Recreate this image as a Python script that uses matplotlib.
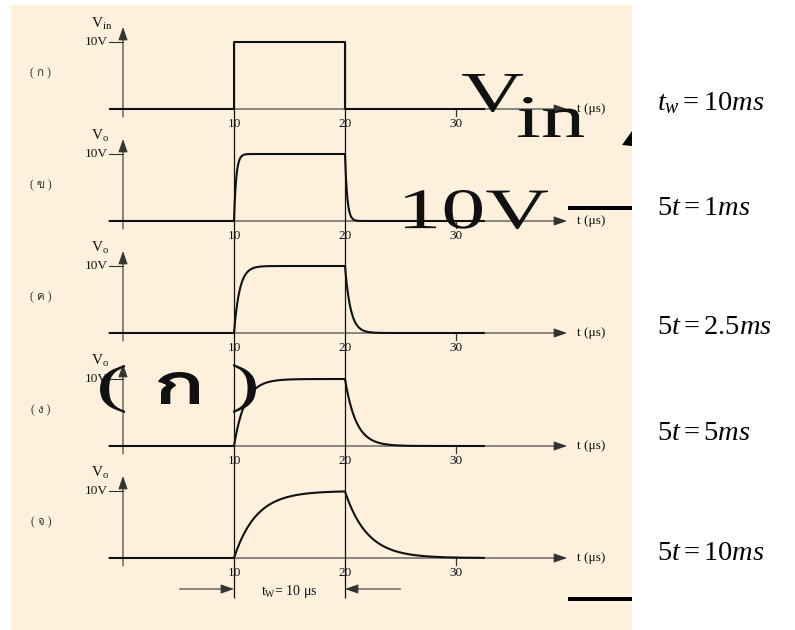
import numpy as np
import matplotlib
matplotlib.use("Agg")
import matplotlib.pyplot as plt
from matplotlib import font_manager
from matplotlib.ft2font import FT2Font
from matplotlib.font_manager import FontProperties
from matplotlib.patches import Rectangle, PathPatch, Polygon
from matplotlib.textpath import TextPath
from matplotlib.transforms import Affine2D

# ---- data ---------------------------------------------------------------
PANEL_TAGS = ["( ก )", "( ข )", "( ค )", "( ง )", "( จ )"]
PANEL_YLABELS = [r"$\mathrm{V_{in}}$", r"$\mathrm{V_o}$", r"$\mathrm{V_o}$",
                 r"$\mathrm{V_o}$", r"$\mathrm{V_o}$"]
FIVE_TAU_US = [None, 1.0, 2.5, 5.0, 10.0]   # first panel is the input pulse
T_ON, T_OFF = 10.0, 20.0
V_PEAK = 10.0
T_TICKS = [10, 20, 30]
EQ_LABELS = [r"$t_w = 10ms$", r"$5t = 1ms$", r"$5t = 2.5ms$",
             r"$5t = 5ms$", r"$5t = 10ms$"]

# ---- layout (pixels) ----------------------------------------------------
W, H, DPI = 795, 630, 100
BG_BOX = (11, 5, 632, 630)
BASE_PX = [109, 221, 333, 446, 558]
EQ_Y_PX = [103, 209, 327, 433, 553]
T0_PX, PX_PER_US, PX_PER_V = 123.0, 11.1, 6.7
AX_LEFT, AX_RIGHT = 11, 632
XLIM = ((AX_LEFT - T0_PX) / PX_PER_US, (AX_RIGHT - T0_PX) / PX_PER_US)
ABOVE, BELOW = 95, 22

BG = "#FDF1DE"
INK = "#111111"
AXC = "#333333"
SMALL = 9.5

plt.rcParams.update({
    "font.family": "Liberation Serif",
    "mathtext.fontset": "custom",
    "mathtext.rm": "Liberation Serif",
    "mathtext.it": "Liberation Serif:italic",
    "mathtext.bf": "Liberation Serif:bold",
})


def font_with(ch):
    for f in font_manager.fontManager.ttflist:
        try:
            if ord(ch) in FT2Font(f.fname).get_charmap():
                return f
        except Exception:
            pass
    return None


thai = font_with("ก")
if thai is not None:
    thai_fp = FontProperties(fname=thai.fname)
    tag_family = ["Liberation Serif", thai.name]
else:
    thai_fp = FontProperties(family="DejaVu Sans")
    tag_family = ["Liberation Serif", "DejaVu Sans"]
serif_fp = FontProperties(family="Liberation Serif")


def response(five_tau):
    t_pre = np.array([-1.2, T_ON])
    v_pre = np.zeros(2)
    if five_tau is None:
        t = np.array([-1.2, T_ON, T_ON, T_OFF, T_OFF, 32.5])
        v = np.array([0, 0, V_PEAK, V_PEAK, 0, 0])
        return t, v
    tau = five_tau / 5.0
    t_up = np.linspace(T_ON, T_OFF, 500)
    v_up = V_PEAK * (1 - np.exp(-(t_up - T_ON) / tau))
    t_dn = np.linspace(T_OFF, 32.5, 500)
    v_dn = v_up[-1] * np.exp(-(t_dn - T_OFF) / tau)
    return np.concatenate([t_pre, t_up, t_dn]), np.concatenate([v_pre, v_up, v_dn])


def glyph_box(fig, s, fp, x0, y0, x1, y1, color=INK):
    # fit a glyph outline into a pixel box (y measured from the top)
    path = TextPath((0, 0), s, size=100, prop=fp)
    bb = path.get_extents()
    tr = (Affine2D().translate(-bb.x0, -bb.y0)
          .scale((x1 - x0) / bb.width, (y1 - y0) / bb.height)
          .translate(x0, H - y1))
    fig.add_artist(PathPatch(path, transform=tr, facecolor=color,
                             edgecolor="none", zorder=10))


fig = plt.figure(figsize=(W / DPI, H / DPI), dpi=DPI, facecolor="white")
fig.add_artist(Rectangle((BG_BOX[0] / W, 1 - BG_BOX[3] / H),
                         (BG_BOX[2] - BG_BOX[0]) / W, (BG_BOX[3] - BG_BOX[1]) / H,
                         transform=fig.transFigure, facecolor=BG,
                         edgecolor="none", zorder=-5))

arrow_kw = dict(arrowstyle="-|>,head_length=0.8,head_width=0.28",
                lw=0.8, color=AXC, shrinkA=0, shrinkB=0)

for k, base in enumerate(BASE_PX):
    ax = fig.add_axes([AX_LEFT / W, 1 - (base + BELOW) / H,
                       (AX_RIGHT - AX_LEFT) / W, (ABOVE + BELOW) / H])
    ax.set_xlim(*XLIM)
    ax.set_ylim(-BELOW / PX_PER_V, ABOVE / PX_PER_V)
    ax.axis("off")
    ax.patch.set_alpha(0)

    ax.annotate("", xy=(40.0, 0), xytext=(-1.2, 0), arrowprops=arrow_kw)
    ax.annotate("", xy=(0, V_PEAK + 15 / PX_PER_V), xytext=(0, -8 / PX_PER_V),
                arrowprops=arrow_kw)
    ax.plot([-1.25, 0], [V_PEAK, V_PEAK], color=AXC, lw=0.8)
    ax.plot([30, 30], [0, -7 / PX_PER_V], color=AXC, lw=0.9)

    for tk in T_TICKS:
        ax.text(tk, -15 / PX_PER_V, str(tk), ha="center", va="center",
                fontsize=SMALL, color=INK)
    ax.text(40.9, 0, "t (μs)", ha="left", va="center", fontsize=SMALL, color=INK)
    ax.text(-1.4, V_PEAK, "10V", ha="right", va="center", fontsize=SMALL, color=INK)
    ax.text(-2.85, V_PEAK + 14 / PX_PER_V, PANEL_YLABELS[k], ha="left",
            va="baseline", fontsize=11, color=INK)
    ax.text(-7.4, 5.4, PANEL_TAGS[k], ha="center", va="center",
            color="#333333", family=tag_family, fontsize=8.5)

    t, v = response(FIVE_TAU_US[k])
    ax.plot(t, v, color=INK, lw=1.5, solid_joinstyle="round", zorder=4)

# full-height guides at the pulse edges plus the pulse-width marker
ov = fig.add_axes([AX_LEFT / W, 0, (AX_RIGHT - AX_LEFT) / W, 1])
ov.set_xlim(*XLIM)
ov.set_ylim(H, 0)
ov.axis("off")
ov.patch.set_alpha(0)
ov.vlines([T_ON, T_OFF], BASE_PX[0] - 67, 598, color=INK, lw=0.9)
ov.annotate("", xy=(T_ON, 589), xytext=(5.1, 589), arrowprops=arrow_kw)
ov.annotate("", xy=(T_OFF, 589), xytext=(25.0, 589), arrowprops=arrow_kw)
ov.text((T_ON + T_OFF) / 2, 591, r"t$_\mathrm{W}$= 10 μs", ha="center",
        va="center", fontsize=SMALL + 0.5, color=INK)

# right-hand time constants
for lab, yp in zip(EQ_LABELS, EQ_Y_PX):
    fig.text(657 / W, 1 - yp / H, lab, ha="left", va="center", fontsize=20.5,
             color="black")

# large slide lettering lying over the diagram
glyph_box(fig, "V", serif_fp, 462, 74, 523, 112)
glyph_box(fig, "in", serif_fp, 518, 97, 584, 137)
glyph_box(fig, "10V", serif_fp, 405, 190, 548, 229)
glyph_box(fig, "(", serif_fp, 100, 365, 125, 413)
glyph_box(fig, "ก", thai_fp, 158, 372, 199, 404)
glyph_box(fig, ")", serif_fp, 233, 364, 256, 413)

for yb in (208, 599):
    fig.add_artist(Rectangle((568 / W, 1 - (yb + 2) / H), 64 / W, 4 / H,
                             transform=fig.transFigure, facecolor="black",
                             edgecolor="none", zorder=10))
fig.add_artist(Polygon([(622 / W, 1 - 145 / H), (632 / W, 1 - 131 / H),
                        (632 / W, 1 - 146 / H)], closed=True,
                       transform=fig.transFigure, facecolor="black",
                       edgecolor="none", zorder=10))

fig.savefig("out.png", dpi=DPI, facecolor="white")
